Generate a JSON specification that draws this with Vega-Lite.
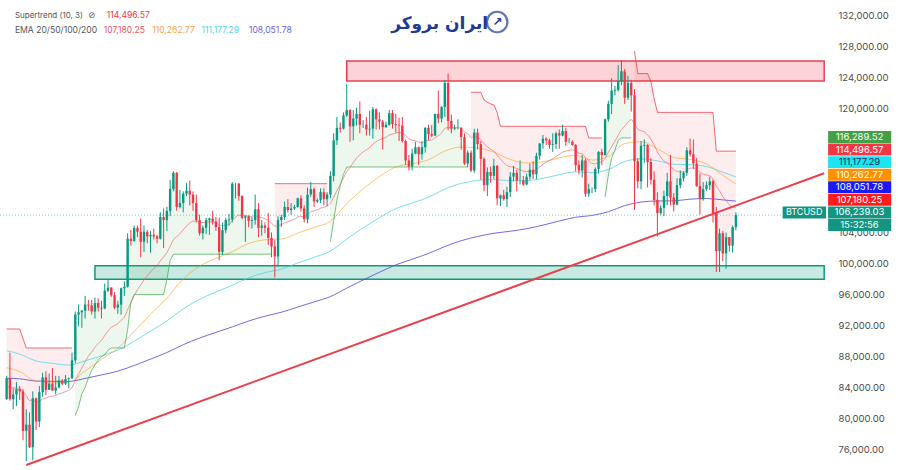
{
"$schema":"https://vega.github.io/schema/vega-lite/v6.json",
"width":832,"height":470,"autosize":"none","padding":{"left":0,"top":0,"right":68,"bottom":0},"background":"white",
"config":{"view":{"stroke":null},"axisY":{"labelOverlap":false,"labelFont":"Inter","labelFontSize":9.5,"labelColor":"#4a4a4a","domain":false,"ticks":false,"tickSize":0,"grid":false,"labelPadding":6,"labelAlign":"left","labelBound":false,"labelFlush":false,"title":null}},
"datasets":{
"candles":[
{"date":"2025-04-01","open":82500,"high":85500,"low":82400,"close":85200,"ema20":84200,"st":91550,"seg":1,"trend":"down"},
{"date":"2025-04-02","open":85200,"high":88500,"low":82300,"close":82500,"ema20":84040,"st":91550,"seg":1,"trend":"down"},
{"date":"2025-04-03","open":82500,"high":83900,"low":81200,"close":83100,"ema20":83950,"st":91550,"seg":1,"trend":"down"},
{"date":"2025-04-04","open":83100,"high":84700,"low":81600,"close":83800,"ema20":83940,"st":91550,"seg":1,"trend":"down"},
{"date":"2025-04-05","open":83800,"high":84200,"low":82400,"close":83500,"ema20":83900,"st":91550,"seg":1,"trend":"down"},
{"date":"2025-04-06","open":83500,"high":83800,"low":77200,"close":78400,"ema20":83380,"st":90300,"seg":1,"trend":"down"},
{"date":"2025-04-07","open":78400,"high":81200,"low":74500,"close":79200,"ema20":82980,"st":89100,"seg":1,"trend":"down"},
{"date":"2025-04-08","open":79200,"high":80800,"low":76200,"close":76300,"ema20":82340,"st":89100,"seg":1,"trend":"down"},
{"date":"2025-04-09","open":76300,"high":83500,"low":74600,"close":82600,"ema20":82370,"st":89100,"seg":1,"trend":"down"},
{"date":"2025-04-10","open":82600,"high":82700,"low":78500,"close":79600,"ema20":82110,"st":89100,"seg":1,"trend":"down"},
{"date":"2025-04-11","open":79600,"high":84200,"low":78900,"close":83400,"ema20":82230,"st":89100,"seg":1,"trend":"down"},
{"date":"2025-04-12","open":83400,"high":85900,"low":82800,"close":85300,"ema20":82520,"st":89100,"seg":1,"trend":"down"},
{"date":"2025-04-13","open":85300,"high":86100,"low":83000,"close":83700,"ema20":82630,"st":89100,"seg":1,"trend":"down"},
{"date":"2025-04-14","open":83700,"high":85800,"low":83700,"close":84500,"ema20":82810,"st":89100,"seg":1,"trend":"down"},
{"date":"2025-04-15","open":84500,"high":86500,"low":83600,"close":83600,"ema20":82880,"st":89100,"seg":1,"trend":"down"},
{"date":"2025-04-16","open":83600,"high":85500,"low":83100,"close":84000,"ema20":82980,"st":89100,"seg":1,"trend":"down"},
{"date":"2025-04-17","open":84000,"high":85500,"low":83900,"close":84900,"ema20":83170,"st":89100,"seg":1,"trend":"down"},
{"date":"2025-04-18","open":84900,"high":85100,"low":84300,"close":84500,"ema20":83300,"st":89100,"seg":1,"trend":"down"},
{"date":"2025-04-19","open":84500,"high":85600,"low":84300,"close":85100,"ema20":83470,"st":89100,"seg":1,"trend":"down"},
{"date":"2025-04-20","open":85100,"high":85300,"low":83900,"close":85200,"ema20":83640,"st":89100,"seg":1,"trend":"down"},
{"date":"2025-04-21","open":85200,"high":88500,"low":85100,"close":87500,"ema20":84010,"st":89100,"seg":1,"trend":"down"},
{"date":"2025-04-22","open":87500,"high":93800,"low":87100,"close":93400,"ema20":84900,"st":80400,"seg":2,"trend":"up"},
{"date":"2025-04-23","open":93400,"high":94700,"low":91900,"close":93700,"ema20":85750,"st":81500,"seg":2,"trend":"up"},
{"date":"2025-04-24","open":93700,"high":94000,"low":91700,"close":93900,"ema20":86530,"st":83200,"seg":2,"trend":"up"},
{"date":"2025-04-25","open":93900,"high":95800,"low":92900,"close":94700,"ema20":87330,"st":84000,"seg":2,"trend":"up"},
{"date":"2025-04-26","open":94700,"high":95300,"low":93900,"close":94600,"ema20":88030,"st":85200,"seg":2,"trend":"up"},
{"date":"2025-04-27","open":94600,"high":95300,"low":93400,"close":93800,"ema20":88580,"st":86200,"seg":2,"trend":"up"},
{"date":"2025-04-28","open":93800,"high":95600,"low":92900,"close":94900,"ema20":89180,"st":86900,"seg":2,"trend":"up"},
{"date":"2025-04-29","open":94900,"high":95500,"low":93800,"close":94300,"ema20":89670,"st":87500,"seg":2,"trend":"up"},
{"date":"2025-04-30","open":94300,"high":95200,"low":92900,"close":94200,"ema20":90110,"st":88000,"seg":2,"trend":"up"},
{"date":"2025-05-01","open":94200,"high":97400,"low":94100,"close":96500,"ema20":90720,"st":88200,"seg":2,"trend":"up"},
{"date":"2025-05-02","open":96500,"high":97900,"low":96300,"close":96900,"ema20":91320,"st":88800,"seg":2,"trend":"up"},
{"date":"2025-05-03","open":96900,"high":96900,"low":95700,"close":95900,"ema20":91760,"st":89100,"seg":2,"trend":"up"},
{"date":"2025-05-04","open":95900,"high":96300,"low":94100,"close":94300,"ema20":91990,"st":89100,"seg":2,"trend":"up"},
{"date":"2025-05-05","open":94300,"high":95200,"low":93500,"close":94700,"ema20":92250,"st":89100,"seg":2,"trend":"up"},
{"date":"2025-05-06","open":94700,"high":96900,"low":93400,"close":96800,"ema20":92680,"st":89100,"seg":2,"trend":"up"},
{"date":"2025-05-07","open":96800,"high":97700,"low":95800,"close":97000,"ema20":93090,"st":89100,"seg":2,"trend":"up"},
{"date":"2025-05-08","open":97000,"high":103900,"low":96900,"close":103200,"ema20":94050,"st":91500,"seg":2,"trend":"up"},
{"date":"2025-05-09","open":103200,"high":104300,"low":102300,"close":102900,"ema20":94900,"st":95000,"seg":2,"trend":"up"},
{"date":"2025-05-10","open":102900,"high":104900,"low":102800,"close":104600,"ema20":95840,"st":96000,"seg":2,"trend":"up"},
{"date":"2025-05-11","open":104600,"high":104900,"low":103400,"close":104100,"ema20":96630,"st":96000,"seg":2,"trend":"up"},
{"date":"2025-05-12","open":104100,"high":105800,"low":100800,"close":102800,"ema20":97220,"st":96000,"seg":2,"trend":"up"},
{"date":"2025-05-13","open":102800,"high":104900,"low":101500,"close":104100,"ema20":97870,"st":96000,"seg":2,"trend":"up"},
{"date":"2025-05-14","open":104100,"high":104300,"low":102600,"close":103500,"ema20":98410,"st":96000,"seg":2,"trend":"up"},
{"date":"2025-05-15","open":103500,"high":104200,"low":101400,"close":103700,"ema20":98930,"st":96000,"seg":2,"trend":"up"},
{"date":"2025-05-16","open":103700,"high":104500,"low":103100,"close":103500,"ema20":99370,"st":96000,"seg":2,"trend":"up"},
{"date":"2025-05-17","open":103500,"high":103700,"low":102600,"close":103200,"ema20":99730,"st":96000,"seg":2,"trend":"up"},
{"date":"2025-05-18","open":103200,"high":106600,"low":103100,"close":106000,"ema20":100330,"st":96000,"seg":2,"trend":"up"},
{"date":"2025-05-19","open":106000,"high":107100,"low":102000,"close":105600,"ema20":100830,"st":96000,"seg":2,"trend":"up"},
{"date":"2025-05-20","open":105600,"high":107300,"low":104200,"close":106800,"ema20":101410,"st":97900,"seg":2,"trend":"up"},
{"date":"2025-05-21","open":106800,"high":110800,"low":106100,"close":109600,"ema20":102190,"st":100400,"seg":2,"trend":"up"},
{"date":"2025-05-22","open":109600,"high":111900,"low":109300,"close":111700,"ema20":103090,"st":101200,"seg":2,"trend":"up"},
{"date":"2025-05-23","open":111700,"high":111800,"low":106800,"close":107300,"ema20":103450,"st":101200,"seg":2,"trend":"up"},
{"date":"2025-05-24","open":107300,"high":109500,"low":107100,"close":107800,"ema20":103860,"st":101200,"seg":2,"trend":"up"},
{"date":"2025-05-25","open":107800,"high":109300,"low":106600,"close":109000,"ema20":104350,"st":101200,"seg":2,"trend":"up"},
{"date":"2025-05-26","open":109000,"high":110400,"low":108700,"close":109400,"ema20":104830,"st":101200,"seg":2,"trend":"up"},
{"date":"2025-05-27","open":109400,"high":110700,"low":107500,"close":108900,"ema20":105220,"st":101200,"seg":2,"trend":"up"},
{"date":"2025-05-28","open":108900,"high":109300,"low":106800,"close":107800,"ema20":105460,"st":101200,"seg":2,"trend":"up"},
{"date":"2025-05-29","open":107800,"high":108900,"low":105300,"close":105600,"ema20":105480,"st":101200,"seg":2,"trend":"up"},
{"date":"2025-05-30","open":105600,"high":106300,"low":103600,"close":103900,"ema20":105340,"st":101200,"seg":2,"trend":"up"},
{"date":"2025-05-31","open":103900,"high":104900,"low":103100,"close":104600,"ema20":105280,"st":101200,"seg":2,"trend":"up"},
{"date":"2025-06-01","open":104600,"high":105900,"low":103800,"close":105600,"ema20":105310,"st":101200,"seg":2,"trend":"up"},
{"date":"2025-06-02","open":105600,"high":105900,"low":103700,"close":105800,"ema20":105360,"st":101200,"seg":2,"trend":"up"},
{"date":"2025-06-03","open":105800,"high":106800,"low":105000,"close":105400,"ema20":105360,"st":101200,"seg":2,"trend":"up"},
{"date":"2025-06-04","open":105400,"high":106000,"low":104200,"close":104700,"ema20":105300,"st":101200,"seg":2,"trend":"up"},
{"date":"2025-06-05","open":104700,"high":105900,"low":100400,"close":101500,"ema20":104940,"st":101200,"seg":2,"trend":"up"},
{"date":"2025-06-06","open":101500,"high":105300,"low":101100,"close":104300,"ema20":104880,"st":101200,"seg":2,"trend":"up"},
{"date":"2025-06-07","open":104300,"high":105900,"low":103900,"close":105600,"ema20":104950,"st":101200,"seg":2,"trend":"up"},
{"date":"2025-06-08","open":105600,"high":106400,"low":104900,"close":105700,"ema20":105020,"st":101200,"seg":2,"trend":"up"},
{"date":"2025-06-09","open":105700,"high":110500,"low":105300,"close":110300,"ema20":105520,"st":101200,"seg":2,"trend":"up"},
{"date":"2025-06-10","open":110300,"high":110400,"low":108400,"close":110300,"ema20":105980,"st":101200,"seg":2,"trend":"up"},
{"date":"2025-06-11","open":110300,"high":110400,"low":108100,"close":108700,"ema20":106240,"st":101200,"seg":2,"trend":"up"},
{"date":"2025-06-12","open":108700,"high":108800,"low":105700,"close":105900,"ema20":106210,"st":101200,"seg":2,"trend":"up"},
{"date":"2025-06-13","open":105900,"high":106200,"low":102800,"close":106100,"ema20":106200,"st":101200,"seg":2,"trend":"up"},
{"date":"2025-06-14","open":106100,"high":106200,"low":104700,"close":105500,"ema20":106130,"st":101200,"seg":2,"trend":"up"},
{"date":"2025-06-15","open":105500,"high":106000,"low":104500,"close":105600,"ema20":106080,"st":101200,"seg":2,"trend":"up"},
{"date":"2025-06-16","open":105600,"high":108900,"low":105000,"close":107000,"ema20":106170,"st":101200,"seg":2,"trend":"up"},
{"date":"2025-06-17","open":107000,"high":107800,"low":103400,"close":104600,"ema20":106020,"st":101200,"seg":2,"trend":"up"},
{"date":"2025-06-18","open":104600,"high":105600,"low":103600,"close":104900,"ema20":105910,"st":101200,"seg":2,"trend":"up"},
{"date":"2025-06-19","open":104900,"high":105300,"low":103900,"close":104600,"ema20":105790,"st":101200,"seg":2,"trend":"up"},
{"date":"2025-06-20","open":104600,"high":106500,"low":102400,"close":103300,"ema20":105550,"st":101200,"seg":2,"trend":"up"},
{"date":"2025-06-21","open":103300,"high":104000,"low":100800,"close":102200,"ema20":105230,"st":101200,"seg":2,"trend":"up"},
{"date":"2025-06-22","open":102200,"high":103000,"low":98200,"close":100900,"ema20":104820,"st":110300,"seg":3,"trend":"down"},
{"date":"2025-06-23","open":100900,"high":106100,"low":99600,"close":105600,"ema20":104900,"st":110300,"seg":3,"trend":"down"},
{"date":"2025-06-24","open":105600,"high":106300,"low":104700,"close":106000,"ema20":105010,"st":110300,"seg":3,"trend":"down"},
{"date":"2025-06-25","open":106000,"high":108000,"low":105600,"close":107300,"ema20":105230,"st":110300,"seg":3,"trend":"down"},
{"date":"2025-06-26","open":107300,"high":108300,"low":106600,"close":106900,"ema20":105390,"st":110300,"seg":3,"trend":"down"},
{"date":"2025-06-27","open":106900,"high":107800,"low":106300,"close":107100,"ema20":105550,"st":110300,"seg":3,"trend":"down"},
{"date":"2025-06-28","open":107100,"high":107600,"low":106900,"close":107300,"ema20":105720,"st":110300,"seg":3,"trend":"down"},
{"date":"2025-06-29","open":107300,"high":108500,"low":107200,"close":108400,"ema20":105980,"st":110300,"seg":3,"trend":"down"},
{"date":"2025-06-30","open":108400,"high":108800,"low":106700,"close":107100,"ema20":106090,"st":110300,"seg":3,"trend":"down"},
{"date":"2025-07-01","open":107100,"high":107500,"low":105300,"close":105700,"ema20":106050,"st":110300,"seg":3,"trend":"down"},
{"date":"2025-07-02","open":105700,"high":109800,"low":105200,"close":108900,"ema20":106320,"st":110300,"seg":3,"trend":"down"},
{"date":"2025-07-03","open":108900,"high":110500,"low":108600,"close":109600,"ema20":106660,"st":110300,"seg":3,"trend":"down"},
{"date":"2025-07-04","open":109600,"high":109800,"low":107300,"close":108000,"ema20":106790,"st":110300,"seg":3,"trend":"down"},
{"date":"2025-07-05","open":108000,"high":108400,"low":107800,"close":108200,"ema20":106920,"st":110300,"seg":3,"trend":"down"},
{"date":"2025-07-06","open":108200,"high":109700,"low":107800,"close":109200,"ema20":107140,"st":110300,"seg":3,"trend":"down"},
{"date":"2025-07-07","open":109200,"high":109700,"low":107500,"close":108300,"ema20":107250,"st":110300,"seg":3,"trend":"down"},
{"date":"2025-07-08","open":108300,"high":109200,"low":107400,"close":108900,"ema20":107410,"st":110300,"seg":3,"trend":"down"},
{"date":"2025-07-09","open":108900,"high":111900,"low":108400,"close":111300,"ema20":107780,"st":102800,"seg":4,"trend":"up"},
{"date":"2025-07-10","open":111300,"high":116800,"low":110600,"close":115900,"ema20":108570,"st":105500,"seg":4,"trend":"up"},
{"date":"2025-07-11","open":115900,"high":118900,"low":115300,"close":117500,"ema20":109420,"st":108200,"seg":4,"trend":"up"},
{"date":"2025-07-12","open":117500,"high":118200,"low":116900,"close":117400,"ema20":110180,"st":110000,"seg":4,"trend":"up"},
{"date":"2025-07-13","open":117400,"high":119500,"low":117300,"close":119100,"ema20":111030,"st":111500,"seg":4,"trend":"up"},
{"date":"2025-07-14","open":119100,"high":123200,"low":118900,"close":119800,"ema20":111860,"st":112450,"seg":4,"trend":"up"},
{"date":"2025-07-15","open":119800,"high":119900,"low":115700,"close":117700,"ema20":112410,"st":112450,"seg":4,"trend":"up"},
{"date":"2025-07-16","open":117700,"high":119800,"low":115900,"close":118700,"ema20":113010,"st":112450,"seg":4,"trend":"up"},
{"date":"2025-07-17","open":118700,"high":120100,"low":117800,"close":119300,"ema20":113610,"st":112450,"seg":4,"trend":"up"},
{"date":"2025-07-18","open":119300,"high":120900,"low":116800,"close":117900,"ema20":114030,"st":112450,"seg":4,"trend":"up"},
{"date":"2025-07-19","open":117900,"high":118500,"low":117500,"close":117900,"ema20":114400,"st":112450,"seg":4,"trend":"up"},
{"date":"2025-07-20","open":117900,"high":118900,"low":116500,"close":117300,"ema20":114680,"st":112450,"seg":4,"trend":"up"},
{"date":"2025-07-21","open":117300,"high":119700,"low":116500,"close":117400,"ema20":114940,"st":112450,"seg":4,"trend":"up"},
{"date":"2025-07-22","open":117400,"high":120200,"low":116100,"close":119900,"ema20":115410,"st":112450,"seg":4,"trend":"up"},
{"date":"2025-07-23","open":119900,"high":120000,"low":117300,"close":118600,"ema20":115710,"st":112450,"seg":4,"trend":"up"},
{"date":"2025-07-24","open":118600,"high":119500,"low":117300,"close":118300,"ema20":115960,"st":112450,"seg":4,"trend":"up"},
{"date":"2025-07-25","open":118300,"high":118500,"low":114700,"close":117600,"ema20":116120,"st":112450,"seg":4,"trend":"up"},
{"date":"2025-07-26","open":117600,"high":118300,"low":117500,"close":117900,"ema20":116290,"st":112450,"seg":4,"trend":"up"},
{"date":"2025-07-27","open":117900,"high":119800,"low":117800,"close":119400,"ema20":116570,"st":112450,"seg":4,"trend":"up"},
{"date":"2025-07-28","open":119400,"high":119800,"low":117400,"close":118000,"ema20":116700,"st":112450,"seg":4,"trend":"up"},
{"date":"2025-07-29","open":118000,"high":119300,"low":116900,"close":117900,"ema20":116810,"st":112450,"seg":4,"trend":"up"},
{"date":"2025-07-30","open":117900,"high":118800,"low":115800,"close":117800,"ema20":116910,"st":112450,"seg":4,"trend":"up"},
{"date":"2025-07-31","open":117800,"high":118900,"low":115600,"close":115800,"ema20":116810,"st":112450,"seg":4,"trend":"up"},
{"date":"2025-08-01","open":115800,"high":116000,"low":112700,"close":113300,"ema20":116480,"st":112450,"seg":4,"trend":"up"},
{"date":"2025-08-02","open":113300,"high":114000,"low":112000,"close":112500,"ema20":116090,"st":112450,"seg":4,"trend":"up"},
{"date":"2025-08-03","open":112500,"high":114800,"low":112000,"close":114200,"ema20":115910,"st":112450,"seg":4,"trend":"up"},
{"date":"2025-08-04","open":114200,"high":115700,"low":114100,"close":115000,"ema20":115830,"st":112450,"seg":4,"trend":"up"},
{"date":"2025-08-05","open":115000,"high":115100,"low":112700,"close":114100,"ema20":115660,"st":112450,"seg":4,"trend":"up"},
{"date":"2025-08-06","open":114100,"high":115800,"low":113400,"close":115000,"ema20":115600,"st":112450,"seg":4,"trend":"up"},
{"date":"2025-08-07","open":115000,"high":117600,"low":114300,"close":117500,"ema20":115780,"st":112450,"seg":4,"trend":"up"},
{"date":"2025-08-08","open":117500,"high":117900,"low":115900,"close":116700,"ema20":115870,"st":112450,"seg":4,"trend":"up"},
{"date":"2025-08-09","open":116700,"high":117900,"low":116300,"close":116500,"ema20":115930,"st":112450,"seg":4,"trend":"up"},
{"date":"2025-08-10","open":116500,"high":119300,"low":116500,"close":119300,"ema20":116250,"st":112450,"seg":4,"trend":"up"},
{"date":"2025-08-11","open":119300,"high":122300,"low":118100,"close":118700,"ema20":116490,"st":112450,"seg":4,"trend":"up"},
{"date":"2025-08-12","open":118700,"high":120300,"low":118200,"close":120200,"ema20":116840,"st":112450,"seg":4,"trend":"up"},
{"date":"2025-08-13","open":120200,"high":123700,"low":118900,"close":123300,"ema20":117440,"st":112450,"seg":4,"trend":"up"},
{"date":"2025-08-14","open":123300,"high":124500,"low":117200,"close":118400,"ema20":117530,"st":112450,"seg":4,"trend":"up"},
{"date":"2025-08-15","open":118400,"high":119200,"low":116800,"close":117400,"ema20":117520,"st":112450,"seg":4,"trend":"up"},
{"date":"2025-08-16","open":117400,"high":117900,"low":117200,"close":117500,"ema20":117520,"st":112450,"seg":4,"trend":"up"},
{"date":"2025-08-17","open":117500,"high":118600,"low":117300,"close":117500,"ema20":117520,"st":112450,"seg":4,"trend":"up"},
{"date":"2025-08-18","open":117500,"high":117600,"low":114700,"close":116300,"ema20":117400,"st":112450,"seg":4,"trend":"up"},
{"date":"2025-08-19","open":116300,"high":116800,"low":112700,"close":112900,"ema20":116990,"st":112450,"seg":4,"trend":"up"},
{"date":"2025-08-20","open":112900,"high":114600,"low":112400,"close":114300,"ema20":116740,"st":112450,"seg":4,"trend":"up"},
{"date":"2025-08-21","open":114300,"high":114600,"low":111800,"close":112000,"ema20":116290,"st":122100,"seg":5,"trend":"down"},
{"date":"2025-08-22","open":112000,"high":117400,"low":111700,"close":116900,"ema20":116350,"st":122100,"seg":5,"trend":"down"},
{"date":"2025-08-23","open":116900,"high":117400,"low":114700,"close":115400,"ema20":116260,"st":122100,"seg":5,"trend":"down"},
{"date":"2025-08-24","open":115400,"high":115800,"low":110800,"close":113500,"ema20":115990,"st":122100,"seg":5,"trend":"down"},
{"date":"2025-08-25","open":113500,"high":113700,"low":109300,"close":110100,"ema20":115430,"st":121100,"seg":5,"trend":"down"},
{"date":"2025-08-26","open":110100,"high":112400,"low":108700,"close":111800,"ema20":115080,"st":120800,"seg":5,"trend":"down"},
{"date":"2025-08-27","open":111800,"high":112500,"low":110400,"close":111300,"ema20":114720,"st":120600,"seg":5,"trend":"down"},
{"date":"2025-08-28","open":111300,"high":113500,"low":110900,"close":112600,"ema20":114510,"st":120450,"seg":5,"trend":"down"},
{"date":"2025-08-29","open":112600,"high":112700,"low":107500,"close":108400,"ema20":113980,"st":119500,"seg":5,"trend":"down"},
{"date":"2025-08-30","open":108400,"high":108900,"low":107400,"close":108800,"ema20":113490,"st":117700,"seg":5,"trend":"down"},
{"date":"2025-08-31","open":108800,"high":109500,"low":108100,"close":108300,"ema20":113000,"st":117700,"seg":5,"trend":"down"},
{"date":"2025-09-01","open":108300,"high":109900,"low":107300,"close":109200,"ema20":112640,"st":117700,"seg":5,"trend":"down"},
{"date":"2025-09-02","open":109200,"high":111800,"low":108600,"close":111200,"ema20":112500,"st":117700,"seg":5,"trend":"down"},
{"date":"2025-09-03","open":111200,"high":112600,"low":110600,"close":111700,"ema20":112420,"st":117700,"seg":5,"trend":"down"},
{"date":"2025-09-04","open":111700,"high":112100,"low":109300,"close":110700,"ema20":112260,"st":117700,"seg":5,"trend":"down"},
{"date":"2025-09-05","open":110700,"high":113300,"low":110200,"close":110700,"ema20":112110,"st":117700,"seg":5,"trend":"down"},
{"date":"2025-09-06","open":110700,"high":111300,"low":110000,"close":110200,"ema20":111930,"st":117700,"seg":5,"trend":"down"},
{"date":"2025-09-07","open":110200,"high":111600,"low":110100,"close":111200,"ema20":111860,"st":117700,"seg":5,"trend":"down"},
{"date":"2025-09-08","open":111200,"high":112900,"low":110800,"close":112100,"ema20":111890,"st":117700,"seg":5,"trend":"down"},
{"date":"2025-09-09","open":112100,"high":113200,"low":110900,"close":111500,"ema20":111920,"st":117700,"seg":5,"trend":"down"},
{"date":"2025-09-10","open":111500,"high":114300,"low":110900,"close":113900,"ema20":112120,"st":117700,"seg":5,"trend":"down"},
{"date":"2025-09-11","open":113900,"high":115500,"low":113400,"close":115500,"ema20":112440,"st":117700,"seg":5,"trend":"down"},
{"date":"2025-09-12","open":115500,"high":116600,"low":114800,"close":116100,"ema20":112790,"st":117700,"seg":5,"trend":"down"},
{"date":"2025-09-13","open":116100,"high":116300,"low":115300,"close":115900,"ema20":113090,"st":117700,"seg":5,"trend":"down"},
{"date":"2025-09-14","open":115900,"high":116100,"low":114800,"close":115300,"ema20":113300,"st":117700,"seg":5,"trend":"down"},
{"date":"2025-09-15","open":115300,"high":116800,"low":114400,"close":115400,"ema20":113500,"st":117700,"seg":5,"trend":"down"},
{"date":"2025-09-16","open":115400,"high":117000,"low":114800,"close":116800,"ema20":113820,"st":117700,"seg":5,"trend":"down"},
{"date":"2025-09-17","open":116800,"high":117300,"low":114800,"close":116500,"ema20":114070,"st":117700,"seg":5,"trend":"down"},
{"date":"2025-09-18","open":116500,"high":117900,"low":116400,"close":117100,"ema20":114360,"st":117700,"seg":5,"trend":"down"},
{"date":"2025-09-19","open":117100,"high":117500,"low":115200,"close":115700,"ema20":114490,"st":117700,"seg":5,"trend":"down"},
{"date":"2025-09-20","open":115700,"high":116200,"low":115500,"close":115700,"ema20":114600,"st":117700,"seg":5,"trend":"down"},
{"date":"2025-09-21","open":115700,"high":115900,"low":115200,"close":115300,"ema20":114670,"st":117700,"seg":5,"trend":"down"},
{"date":"2025-09-22","open":115300,"high":115400,"low":111900,"close":112700,"ema20":114480,"st":117700,"seg":5,"trend":"down"},
{"date":"2025-09-23","open":112700,"high":113300,"low":111500,"close":112000,"ema20":114240,"st":117700,"seg":5,"trend":"down"},
{"date":"2025-09-24","open":112000,"high":114000,"low":111100,"close":113300,"ema20":114150,"st":117700,"seg":5,"trend":"down"},
{"date":"2025-09-25","open":113300,"high":113500,"low":108600,"close":109000,"ema20":113660,"st":117700,"seg":5,"trend":"down"},
{"date":"2025-09-26","open":109000,"high":110300,"low":108600,"close":109600,"ema20":113270,"st":116200,"seg":5,"trend":"down"},
{"date":"2025-09-27","open":109600,"high":109800,"low":109100,"close":109600,"ema20":112920,"st":116200,"seg":5,"trend":"down"},
{"date":"2025-09-28","open":109600,"high":112400,"low":109200,"close":112200,"ema20":112850,"st":116200,"seg":5,"trend":"down"},
{"date":"2025-09-29","open":112200,"high":114500,"low":111600,"close":114400,"ema20":113000,"st":116200,"seg":5,"trend":"down"},
{"date":"2025-09-30","open":114400,"high":114800,"low":112700,"close":114000,"ema20":113100,"st":116200,"seg":5,"trend":"down"},
{"date":"2025-10-01","open":114000,"high":118700,"low":113900,"close":118600,"ema20":113620,"st":108600,"seg":6,"trend":"up"},
{"date":"2025-10-02","open":118600,"high":121000,"low":118300,"close":120600,"ema20":114330,"st":111400,"seg":6,"trend":"up"},
{"date":"2025-10-03","open":120600,"high":123900,"low":119300,"close":122300,"ema20":115090,"st":113600,"seg":6,"trend":"up"},
{"date":"2025-10-04","open":122300,"high":122900,"low":121700,"close":122400,"ema20":115780,"st":114600,"seg":6,"trend":"up"},
{"date":"2025-10-05","open":122400,"high":125600,"low":122200,"close":123500,"ema20":116530,"st":115900,"seg":6,"trend":"up"},
{"date":"2025-10-06","open":123500,"high":126200,"low":123000,"close":124800,"ema20":117310,"st":116200,"seg":6,"trend":"up"},
{"date":"2025-10-07","open":124800,"high":125100,"low":120600,"close":121400,"ema20":117700,"st":116200,"seg":6,"trend":"up"},
{"date":"2025-10-08","open":121400,"high":124200,"low":121100,"close":123300,"ema20":118230,"st":116200,"seg":6,"trend":"up"},
{"date":"2025-10-09","open":123300,"high":123700,"low":119600,"close":121700,"ema20":118560,"st":116200,"seg":6,"trend":"up"},
{"date":"2025-10-10","open":121700,"high":122500,"low":106900,"close":113200,"ema20":118050,"st":127400,"seg":7,"trend":"down"},
{"date":"2025-10-11","open":113200,"high":113600,"low":109700,"close":110600,"ema20":117340,"st":124500,"seg":7,"trend":"down"},
{"date":"2025-10-12","open":110600,"high":115800,"low":109600,"close":115200,"ema20":117140,"st":124500,"seg":7,"trend":"down"},
{"date":"2025-10-13","open":115200,"high":116000,"low":113000,"close":115300,"ema20":116970,"st":124500,"seg":7,"trend":"down"},
{"date":"2025-10-14","open":115300,"high":115400,"low":109800,"close":113100,"ema20":116590,"st":124500,"seg":7,"trend":"down"},
{"date":"2025-10-15","open":113100,"high":113600,"low":110200,"close":110800,"ema20":116040,"st":123500,"seg":7,"trend":"down"},
{"date":"2025-10-16","open":110800,"high":111900,"low":107500,"close":108200,"ema20":115280,"st":121300,"seg":7,"trend":"down"},
{"date":"2025-10-17","open":108200,"high":109200,"low":103500,"close":106500,"ema20":114410,"st":119500,"seg":7,"trend":"down"},
{"date":"2025-10-18","open":106500,"high":107500,"low":106300,"close":107200,"ema20":113720,"st":119500,"seg":7,"trend":"down"},
{"date":"2025-10-19","open":107200,"high":109400,"low":106100,"close":108700,"ema20":113240,"st":119500,"seg":7,"trend":"down"},
{"date":"2025-10-20","open":108700,"high":111700,"low":107500,"close":110600,"ema20":112990,"st":119500,"seg":7,"trend":"down"},
{"date":"2025-10-21","open":110600,"high":114000,"low":107500,"close":108500,"ema20":112560,"st":119500,"seg":7,"trend":"down"},
{"date":"2025-10-22","open":108500,"high":109100,"low":106700,"close":107600,"ema20":112090,"st":119500,"seg":7,"trend":"down"},
{"date":"2025-10-23","open":107600,"high":111000,"low":107500,"close":110100,"ema20":111900,"st":119500,"seg":7,"trend":"down"},
{"date":"2025-10-24","open":110100,"high":112000,"low":109700,"close":111000,"ema20":111820,"st":119500,"seg":7,"trend":"down"},
{"date":"2025-10-25","open":111000,"high":111900,"low":110600,"close":111700,"ema20":111810,"st":119500,"seg":7,"trend":"down"},
{"date":"2025-10-26","open":111700,"high":115000,"low":111300,"close":114600,"ema20":112080,"st":119500,"seg":7,"trend":"down"},
{"date":"2025-10-27","open":114600,"high":116100,"low":113800,"close":114100,"ema20":112280,"st":119500,"seg":7,"trend":"down"},
{"date":"2025-10-28","open":114100,"high":116000,"low":112200,"close":112900,"ema20":112340,"st":119500,"seg":7,"trend":"down"},
{"date":"2025-10-29","open":112900,"high":113600,"low":109900,"close":110000,"ema20":112120,"st":119500,"seg":7,"trend":"down"},
{"date":"2025-10-30","open":110000,"high":111600,"low":106300,"close":108300,"ema20":111750,"st":119500,"seg":7,"trend":"down"},
{"date":"2025-10-31","open":108300,"high":110500,"low":108100,"close":109600,"ema20":111560,"st":119500,"seg":7,"trend":"down"},
{"date":"2025-11-01","open":109600,"high":110600,"low":109400,"close":110100,"ema20":111420,"st":119500,"seg":7,"trend":"down"},
{"date":"2025-11-02","open":110100,"high":111200,"low":109500,"close":110600,"ema20":111340,"st":119500,"seg":7,"trend":"down"},
{"date":"2025-11-03","open":110600,"high":110800,"low":105300,"close":106500,"ema20":110860,"st":119500,"seg":7,"trend":"down"},
{"date":"2025-11-04","open":106500,"high":107300,"low":98900,"close":101600,"ema20":109970,"st":114496.57,"seg":7,"trend":"down"},
{"date":"2025-11-05","open":101600,"high":104500,"low":98900,"close":103900,"ema20":109390,"st":114496.57,"seg":7,"trend":"down"},
{"date":"2025-11-06","open":103900,"high":104200,"low":100300,"close":101300,"ema20":108620,"st":114496.57,"seg":7,"trend":"down"},
{"date":"2025-11-07","open":101300,"high":104000,"low":99300,"close":103400,"ema20":108130,"st":114496.57,"seg":7,"trend":"down"},
{"date":"2025-11-08","open":103400,"high":103400,"low":101500,"close":102300,"ema20":107580,"st":114496.57,"seg":7,"trend":"down"},
{"date":"2025-11-09","open":102300,"high":104900,"low":101400,"close":104700,"ema20":107300,"st":114496.57,"seg":7,"trend":"down"},
{"date":"2025-11-10","open":104700,"high":106600,"low":104300,"close":106239.03,"ema20":107180.25,"st":114496.57,"seg":7,"trend":"down"}
],
"emas":[
{"date":"2025-04-01","ema50":86550,"ema100":88750,"ema200":85190},
{"date":"2025-04-05","ema50":86060,"ema100":88300,"ema200":85120},
{"date":"2025-04-10","ema50":84820,"ema100":87430,"ema200":84830},
{"date":"2025-04-15","ema50":84690,"ema100":87110,"ema200":84790},
{"date":"2025-04-20","ema50":84700,"ema100":86890,"ema200":84790},
{"date":"2025-04-25","ema50":86140,"ema100":87440,"ema200":85170},
{"date":"2025-04-30","ema50":87630,"ema100":88100,"ema200":85620},
{"date":"2025-05-05","ema50":89080,"ema100":88820,"ema200":86110},
{"date":"2025-05-10","ema50":91220,"ema100":89970,"ema200":86840},
{"date":"2025-05-15","ema50":93470,"ema100":91270,"ema200":87660},
{"date":"2025-05-20","ema50":95560,"ema100":92580,"ema200":88510},
{"date":"2025-05-25","ema50":98010,"ema100":94150,"ema200":89520},
{"date":"2025-05-30","ema50":99650,"ema100":95380,"ema200":90380},
{"date":"2025-06-04","ema50":100650,"ema100":96320,"ema200":91110},
{"date":"2025-06-09","ema50":101530,"ema100":97190,"ema200":91820},
{"date":"2025-06-14","ema50":102570,"ema100":98150,"ema200":92580},
{"date":"2025-06-19","ema50":103060,"ema100":98830,"ema200":93200},
{"date":"2025-06-24","ema50":103160,"ema100":99280,"ema200":93710},
{"date":"2025-06-29","ema50":103930,"ema100":100060,"ema200":94380},
{"date":"2025-07-04","ema50":104650,"ema100":100800,"ema200":95040},
{"date":"2025-07-09","ema50":105470,"ema100":101600,"ema200":95730},
{"date":"2025-07-14","ema50":107720,"ema100":103150,"ema200":96820},
{"date":"2025-07-19","ema50":109630,"ema100":104590,"ema200":97870},
{"date":"2025-07-24","ema50":111200,"ema100":105900,"ema200":98870},
{"date":"2025-07-29","ema50":112470,"ema100":107070,"ema200":99820},
{"date":"2025-08-03","ema50":112870,"ema100":107800,"ema200":100550},
{"date":"2025-08-08","ema50":113380,"ema100":108550,"ema200":101290},
{"date":"2025-08-13","ema50":114510,"ema100":109600,"ema200":102190},
{"date":"2025-08-18","ema50":115030,"ema100":110340,"ema200":102940},
{"date":"2025-08-23","ema50":114900,"ema100":110720,"ema200":103490},
{"date":"2025-08-28","ema50":114360,"ema100":110830,"ema200":103900},
{"date":"2025-09-02","ema50":113430,"ema100":110680,"ema200":104160},
{"date":"2025-09-07","ema50":112970,"ema100":110700,"ema200":104490},
{"date":"2025-09-12","ema50":113120,"ema100":110990,"ema200":104950},
{"date":"2025-09-17","ema50":113640,"ema100":111470,"ema200":105490},
{"date":"2025-09-22","ema50":113940,"ema100":111830,"ema200":105970},
{"date":"2025-09-27","ema50":113350,"ema100":111720,"ema200":106200},
{"date":"2025-10-02","ema50":113830,"ema100":112130,"ema200":106680},
{"date":"2025-10-07","ema50":115470,"ema100":113160,"ema200":107470},
{"date":"2025-10-12","ema50":115710,"ema100":113500,"ema200":107930},
{"date":"2025-10-17","ema50":114820,"ema100":113250,"ema200":108070},
{"date":"2025-10-22","ema50":113680,"ema100":112800,"ema200":108090},
{"date":"2025-10-27","ema50":113430,"ema100":112750,"ema200":108300},
{"date":"2025-11-01","ema50":112850,"ema100":112510,"ema200":108390},
{"date":"2025-11-06","ema50":111390,"ema100":111780,"ema200":108210},
{"date":"2025-11-10","ema50":110262.77,"ema100":111177.29,"ema200":108051.78}
],
"zones":[
{"zone":"supply","start":"2025-07-14","end":"2025-12-07","low":123550,"high":126130},
{"zone":"demand","start":"2025-04-28","end":"2025-12-07","low":97960,"high":99720}
],
"trend":[
{"date":"2025-04-07","price":74000},
{"date":"2025-12-07","price":111650}
],
"tags":[
{"name":"level","label":"116,289.52"},
{"name":"supertrend","label":"114,496.57"},
{"name":"ema100","label":"111,177.29"},
{"name":"ema50","label":"110,262.77"},
{"name":"ema200","label":"108,051.78"},
{"name":"ema20","label":"107,180.25"},
{"name":"price","label":"106,239.03"},
{"name":"countdown","label":"15:32:56"}
]
},
"layer":[
{
"layer":[
{"data":{"name":"zones"},
 "mark":{"type":"rect","strokeWidth":1.5},
 "encoding":{
  "x":{"field":"start","type":"temporal","scale":{"type":"utc","domain":[{"year":2025,"month":3,"date":31,"hours":12,"utc":true},{"year":2025,"month":12,"date":7,"hours":20,"minutes":40,"utc":true}]},"axis":null},
  "x2":{"field":"end"},
  "y":{"field":"low","type":"quantitative","title":null,"scale":{"domain":[73354,134000],"nice":false,"zero":false},
       "axis":{"orient":"right","title":null,"values":[76000,80000,84000,88000,92000,96000,100000,104000,120000,124000,128000,132000],"format":",.2f","labelOverlap":false}},
  "y2":{"field":"high"},
  "fill":{"condition":{"test":"datum.zone==='supply'","value":"#F23645"},"value":"#089981"},
  "fillOpacity":{"value":0.22},
  "stroke":{"condition":{"test":"datum.zone==='supply'","value":"#E8414D"},"value":"#12977F"}
 }},
{"data":{"name":"candles"},
 "mark":{"type":"area","interpolate":"linear"},
 "encoding":{
  "x":{"field":"date","type":"temporal"},
  "y":{"field":"st","type":"quantitative","title":null},
  "y2":{"field":"close"},
  "detail":{"field":"seg","type":"nominal"},
  "fill":{"condition":{"test":"datum.trend==='up'","value":"#4CAF50"},"value":"#F23645"},
  "fillOpacity":{"condition":{"test":"datum.trend==='up'","value":0.1},"value":0.09}
 }},
{"data":{"name":"emas"},
 "mark":{"type":"line","interpolate":"monotone","strokeWidth":1,"color":"#5B4FD9","opacity":0.85},
 "encoding":{"x":{"field":"date","type":"temporal"},"y":{"field":"ema200","type":"quantitative","title":null}}},
{"data":{"name":"emas"},
 "mark":{"type":"line","interpolate":"monotone","strokeWidth":1,"color":"#3FD3E6","opacity":0.7},
 "encoding":{"x":{"field":"date","type":"temporal"},"y":{"field":"ema100","type":"quantitative","title":null}}},
{"data":{"name":"emas"},
 "mark":{"type":"line","interpolate":"monotone","strokeWidth":1,"color":"#FF9800","opacity":0.55},
 "encoding":{"x":{"field":"date","type":"temporal"},"y":{"field":"ema50","type":"quantitative","title":null}}},
{"data":{"name":"candles"},
 "mark":{"type":"line","interpolate":"monotone","strokeWidth":1,"color":"#F7525F","opacity":0.6},
 "encoding":{"x":{"field":"date","type":"temporal"},"y":{"field":"ema20","type":"quantitative","title":null}}},
{"data":{"name":"candles"},
 "mark":{"type":"line","strokeWidth":1,"opacity":0.75},
 "encoding":{
  "x":{"field":"date","type":"temporal"},
  "y":{"field":"st","type":"quantitative","title":null},
  "detail":{"field":"seg","type":"nominal"},
  "color":{"condition":{"test":"datum.trend==='up'","value":"#4CAF50"},"value":"#F23645"}
 }},
{"data":{"values":[{}]},
 "mark":{"type":"rule","strokeDash":[1,2],"strokeWidth":1,"color":"#7FC9BC"},
 "encoding":{"y":{"datum":106239.03,"type":"quantitative","title":null}}},
{"data":{"name":"candles"},
 "mark":{"type":"rule","strokeWidth":1},
 "encoding":{
  "x":{"field":"date","type":"temporal"},
  "y":{"field":"low","type":"quantitative","title":null},
  "y2":{"field":"high"},
  "color":{"condition":{"test":"datum.close>=datum.open","value":"#089981"},"value":"#F23645"}
 }},
{"data":{"name":"candles"},
 "mark":{"type":"bar","size":2.4,"minBandSize":1},
 "encoding":{
  "x":{"field":"date","type":"temporal"},
  "y":{"field":"open","type":"quantitative","title":null},
  "y2":{"field":"close"},
  "color":{"condition":{"test":"datum.close>=datum.open","value":"#089981"},"value":"#F23645"}
 }},
{"data":{"name":"trend"},
 "mark":{"type":"line","strokeWidth":2,"color":"#E8414D"},
 "encoding":{"x":{"field":"date","type":"temporal"},"y":{"field":"price","type":"quantitative","title":null}}},
{"data":{"values":[{}]},
 "mark":{"type":"text","align":"left","baseline":"alphabetic","font":"Inter","fontSize":8,"color":"#555555"},
 "encoding":{"x":{"datum":{"year":2025,"month":4,"date":3,"hours":12,"minutes":45,"utc":true},"type":"temporal"},"y":{"datum":131677,"type":"quantitative","title":null},"text":{"value":"Supertrend (10, 3)"}}},
{"data":{"values":[{}]},
 "mark":{"type":"text","align":"left","baseline":"alphabetic","font":"DejaVu Sans","fontSize":8.5,"color":"#555555"},
 "encoding":{"x":{"datum":{"year":2025,"month":4,"date":25,"hours":21,"utc":true},"type":"temporal"},"y":{"datum":131677,"type":"quantitative","title":null},"text":{"value":"⊘"}}},
{"data":{"values":[{}]},
 "mark":{"type":"text","align":"left","baseline":"alphabetic","font":"Inter","fontSize":8.6,"color":"#F23645"},
 "encoding":{"x":{"datum":{"year":2025,"month":5,"date":1,"hours":14,"utc":true},"type":"temporal"},"y":{"datum":131677,"type":"quantitative","title":null},"text":{"value":"114,496.57"}}},
{"data":{"values":[{}]},
 "mark":{"type":"text","align":"left","baseline":"alphabetic","font":"Inter","fontSize":8.6,"color":"#555555"},
 "encoding":{"x":{"datum":{"year":2025,"month":4,"date":3,"hours":12,"minutes":45,"utc":true},"type":"temporal"},"y":{"datum":129742,"type":"quantitative","title":null},"text":{"value":"EMA 20/50/100/200"}}},
{"data":{"values":[{}]},
 "mark":{"type":"text","align":"left","baseline":"alphabetic","font":"Inter","fontSize":8.6,"color":"#F0505E"},
 "encoding":{"x":{"datum":{"year":2025,"month":4,"date":30,"hours":17,"utc":true},"type":"temporal"},"y":{"datum":129742,"type":"quantitative","title":null},"text":{"value":"107,180.25"}}},
{"data":{"values":[{}]},
 "mark":{"type":"text","align":"left","baseline":"alphabetic","font":"Inter","fontSize":8.6,"color":"#F5A54A"},
 "encoding":{"x":{"datum":{"year":2025,"month":5,"date":15,"hours":12,"utc":true},"type":"temporal"},"y":{"datum":129742,"type":"quantitative","title":null},"text":{"value":"110,262.77"}}},
{"data":{"values":[{}]},
 "mark":{"type":"text","align":"left","baseline":"alphabetic","font":"Inter","fontSize":8.6,"color":"#55D3E6"},
 "encoding":{"x":{"datum":{"year":2025,"month":5,"date":30,"hours":14,"utc":true},"type":"temporal"},"y":{"datum":129742,"type":"quantitative","title":null},"text":{"value":"111,177.29"}}},
{"data":{"values":[{}]},
 "mark":{"type":"text","align":"left","baseline":"alphabetic","font":"Inter","fontSize":8.6,"color":"#6A5FD6"},
 "encoding":{"x":{"datum":{"year":2025,"month":6,"date":14,"hours":2,"utc":true},"type":"temporal"},"y":{"datum":129742,"type":"quantitative","title":null},"text":{"value":"108,051.78"}}},
{"data":{"values":[{}]},
 "mark":{"type":"text","align":"center","baseline":"alphabetic","font":"DejaVu Sans","fontSize":17,"fontWeight":"bold","color":"#1F3A93"},
 "encoding":{"x":{"datum":{"year":2025,"month":8,"date":11,"hours":10,"utc":true},"type":"temporal"},"y":{"datum":130260,"type":"quantitative","title":null},"text":{"value":"ایران بروکر"}}},
{"data":{"values":[{}]},
 "mark":{"type":"point","shape":"circle","size":420,"filled":false,"strokeWidth":2.2,"color":"#1F3A93"},
 "encoding":{"x":{"datum":{"year":2025,"month":8,"date":29,"utc":true},"type":"temporal"},"y":{"datum":131161,"type":"quantitative","title":null}}},
{"data":{"values":[{}]},
 "mark":{"type":"text","align":"center","baseline":"middle","font":"DejaVu Sans","fontSize":12,"fontWeight":"bold","color":"#1F3A93"},
 "encoding":{"x":{"datum":{"year":2025,"month":8,"date":29,"utc":true},"type":"temporal"},"y":{"datum":131161,"type":"quantitative","title":null},"text":{"value":"↗"}}}
]
},
{
"data":{"name":"tags"},
"encoding":{"y":{"field":"name","type":"nominal","scale":{"domain":["level","supertrend","ema100","ema50","ema200","ema20","price","countdown"],"range":[131,231],"paddingInner":0.05,"paddingOuter":0},"axis":null}},
"layer":[
{"mark":{"type":"rect"},
 "encoding":{
  "x":{"datum":{"year":2025,"month":12,"date":8,"hours":4,"minutes":48,"utc":true},"type":"temporal"},
  "x2":{"datum":{"year":2025,"month":12,"date":27,"hours":12,"utc":true}},
  "color":{"field":"name","type":"nominal","legend":null,"scale":{"domain":["level","supertrend","ema100","ema50","ema200","ema20","price","countdown"],"range":["#43A047","#F23645","#1DE4F2","#FF9100","#1A1AF5","#FF1C1C","#14957F","#14957F"]}}
 }},
{"mark":{"type":"text","align":"center","baseline":"middle","font":"Inter","fontSize":9.5},
 "encoding":{
  "x":{"datum":{"year":2025,"month":12,"date":17,"hours":19,"utc":true},"type":"temporal"},
  "text":{"field":"label"},
  "color":{"condition":{"test":"datum.name==='ema100'","value":"#123060"},"value":"#ffffff"}
 }},
{"transform":[{"filter":"datum.name==='price'"}],
 "mark":{"type":"rect","color":"#14957F"},
 "encoding":{
  "x":{"datum":{"year":2025,"month":11,"date":24,"hours":7,"utc":true},"type":"temporal"},
  "x2":{"datum":{"year":2025,"month":12,"date":7,"hours":14,"utc":true}}
 }},
{"transform":[{"filter":"datum.name==='price'"}],
 "mark":{"type":"text","align":"center","baseline":"middle","font":"Inter","fontSize":9,"color":"#ffffff"},
 "encoding":{
  "x":{"datum":{"year":2025,"month":11,"date":30,"hours":21,"utc":true},"type":"temporal"},
  "text":{"value":"BTCUSD"}
 }}
]
}
],
"resolve":{"scale":{"y":"independent","color":"independent"}}
}
